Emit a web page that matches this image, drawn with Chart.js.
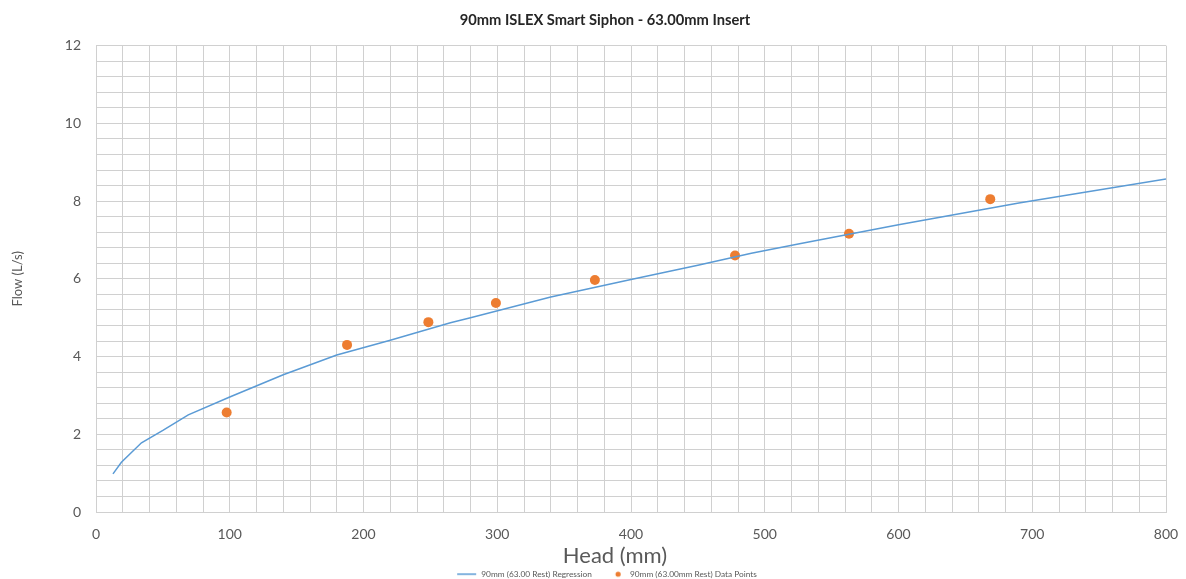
<!DOCTYPE html>
<html>
<head>
<meta charset="utf-8">
<title>90mm ISLEX Smart Siphon - 63.00mm Insert</title>
<script src="https://cdn.jsdelivr.net/npm/chart.js@4/dist/chart.umd.min.js"></script>
<style>
  html, body { margin: 0; padding: 0; background: #fff; }
  #wrap { width: 1186px; height: 579px; position: relative; }
</style>
</head>
<body>
<div id="wrap"><canvas id="c"></canvas></div>
<script>
// Regression curve (head in mm, flow in L/s)
const regressionHead = [12.7, 19, 34, 50, 69, 100, 140, 180, 220, 265, 280, 340, 400, 450, 490, 526, 600, 690, 800];
const regressionFlow = [0.98, 1.28, 1.78, 2.10, 2.50, 2.96, 3.53, 4.04, 4.42, 4.87, 5.00, 5.53, 5.98, 6.35, 6.66, 6.90, 7.39, 7.95, 8.57];

// Measured data points
const measuredHead = [97.7, 187.7, 248.5, 299, 373, 477.8, 563, 668.6];
const measuredFlow = [2.56, 4.30, 4.885, 5.38, 5.97, 6.60, 7.16, 8.05];

// Labelled tick values
const xTickLabels = [0, 100, 200, 300, 400, 500, 600, 700, 800];
const yTickLabels = [0, 2, 4, 6, 8, 10, 12];

const seriesNames = ['90mm (63.00 Rest) Regression', '90mm (63.00mm Rest) Data Points'];
const chartTitle = '90mm ISLEX Smart Siphon - 63.00mm Insert';

const pairs = (xs, ys) => xs.map((x, i) => ({ x: x, y: ys[i] }));
const isLabelled = (v, list) => list.some(t => Math.abs(t - v) < 1e-6);

const FONT = 'Lato, "Open Sans", sans-serif';
const GRID = '#d0d0d0';
const TXT = '#595959';
const BLUE = '#5b9bd5';
const ORANGE = '#ed7d31';

// Legend swatches: a short line and a small dot, each in a 30px slot
const LEGEND_SLOT = 30;
function lineSwatch() {
  const c = document.createElement('canvas');
  c.width = LEGEND_SLOT; c.height = 4;
  const g = c.getContext('2d');
  g.strokeStyle = BLUE; g.lineWidth = 1.5;
  g.beginPath(); g.moveTo(10, 2); g.lineTo(29, 2); g.stroke();
  return c;
}
function dotSwatch() {
  const c = document.createElement('canvas');
  c.width = LEGEND_SLOT; c.height = 8;
  const g = c.getContext('2d');
  g.fillStyle = ORANGE;
  g.beginPath(); g.arc(22.25, 4, 2.6, 0, Math.PI * 2); g.fill();
  return c;
}
const swatches = [lineSwatch(), dotSwatch()];

// Nudges the title, legend and x-axis title sideways after layout
const boxShift = {
  id: 'boxShift',
  afterLayout(chart, args, opts) {
    if (chart.titleBlock) { chart.titleBlock.left += opts.title; chart.titleBlock.right += opts.title; }
    if (chart.legend) { chart.legend.left += opts.legend; chart.legend.right += opts.legend; }
    const sc = chart.scales.x;
    if (sc && !sc._titleShifted) {
      const orig = sc.drawTitle.bind(sc);
      sc.drawTitle = function () {
        this.ctx.save();
        this.ctx.translate(opts.xTitle, 0);
        orig();
        this.ctx.restore();
      };
      sc._titleShifted = true;
    }
  }
};

new Chart(document.getElementById('c'), {
  type: 'scatter',
  plugins: [boxShift],
  data: {
    datasets: [
      {
        label: seriesNames[0],
        data: pairs(regressionHead, regressionFlow),
        showLine: true,
        borderColor: BLUE,
        backgroundColor: BLUE,
        borderWidth: 1.5,
        pointRadius: 0,
        pointHoverRadius: 0,
        tension: 0
      },
      {
        label: seriesNames[1],
        data: pairs(measuredHead, measuredFlow),
        showLine: false,
        borderColor: ORANGE,
        backgroundColor: ORANGE,
        pointRadius: 5,
        pointBorderWidth: 0,
        pointStyle: 'circle'
      }
    ]
  },
  options: {
    responsive: true,
    maintainAspectRatio: false,
    animation: false,
    devicePixelRatio: 1,
    layout: { padding: { left: 0, right: 20, top: 0, bottom: 0 } },
    plugins: {
      boxShift: { title: 22, legend: 19, xTitle: -16 },
      title: {
        display: true,
        text: chartTitle,
        color: '#262626',
        font: { family: FONT, size: 14.7, weight: 'bold' },
        padding: { top: 11, bottom: 17 }
      },
      legend: {
        position: 'bottom',
        maxHeight: 13,
        labels: {
          usePointStyle: true,
          pointStyleWidth: LEGEND_SLOT,
          boxHeight: 4,
          color: TXT,
          font: { family: FONT, size: 8.3 },
          padding: 4,
          generateLabels(chart) {
            const items = Chart.defaults.plugins.legend.labels.generateLabels(chart);
            items.forEach((it, i) => { it.pointStyle = swatches[i]; });
            return items;
          }
        }
      },
      tooltip: { enabled: false }
    },
    scales: {
      x: {
        type: 'linear',
        min: 0,
        max: 800,
        grid: { color: GRID, lineWidth: 1, drawTicks: false },
        border: { color: GRID },
        ticks: {
          stepSize: 20,
          autoSkip: false,
          maxRotation: 0,
          padding: 14,
          color: TXT,
          font: { family: FONT, size: 14 },
          callback: v => isLabelled(v, xTickLabels) ? String(v) : ''
        },
        title: {
          display: true,
          text: 'Head (mm)',
          color: TXT,
          font: { family: FONT, size: 22 },
          padding: { top: 0, bottom: -3 }
        },
        afterFit: s => { s.height = 54; s.paddingLeft = 0; s.paddingRight = 0; }
      },
      y: {
        type: 'linear',
        min: 0,
        max: 12,
        grid: { color: GRID, lineWidth: 1, drawTicks: false },
        border: { color: GRID },
        ticks: {
          stepSize: 0.4,
          autoSkip: false,
          padding: 15,
          color: TXT,
          font: { family: FONT, size: 14 },
          callback: v => isLabelled(v, yTickLabels) ? String(Math.round(v)) : ''
        },
        title: {
          display: true,
          text: 'Flow (L/s)',
          color: TXT,
          font: { family: FONT, size: 13 },
          padding: { top: 10, bottom: 0 }
        },
        afterFit: s => { s.width = 96; }
      }
    }
  }
});
</script>
</body>
</html>
